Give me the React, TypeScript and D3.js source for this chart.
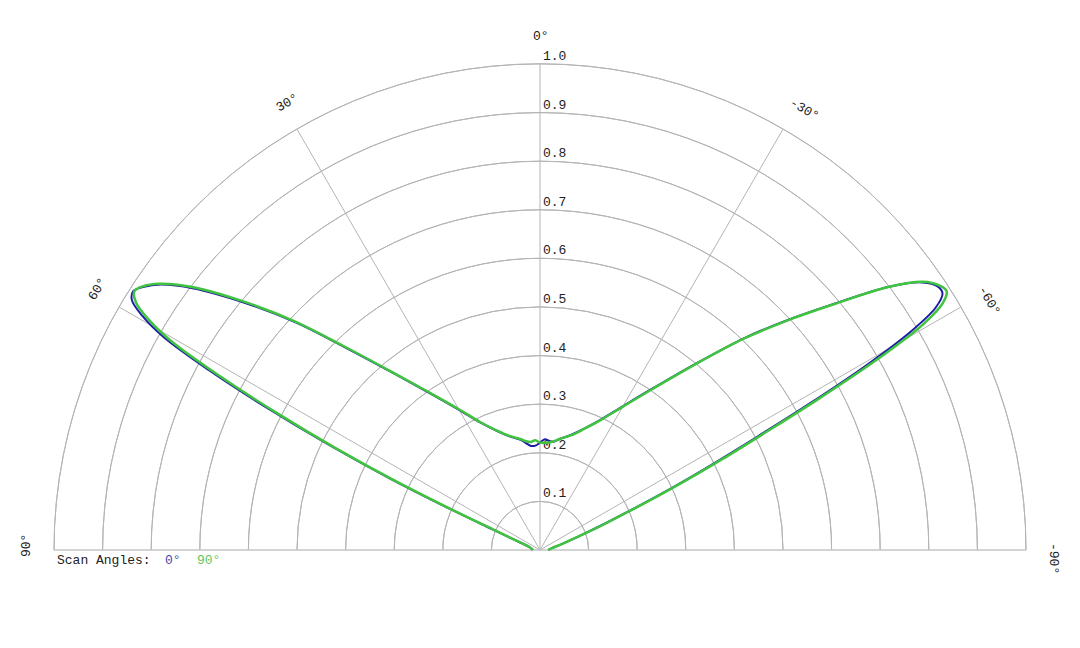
import * as d3 from 'd3';
import { useEffect, useRef } from 'react';

// scan direction (degrees) for each sample, 0 = broadside, + = left
const angles = [
  -90, -85, -80, -75, -70, -68, -66.5, -65.5, -64.5, -63.5, -62.5, -61.5, -60.5, -59.5, -58.5, -57.5,
  -56.5, -55, -53, -50, -47, -44, -40, -35, -30, -25, -20, -15, -10, -7.5, -5, -2.5,
  0,
  2.5, 5, 7.5, 10, 15, 20, 25, 30, 35, 40, 44, 47, 50, 53, 55,
  56.5, 57.5, 58.5, 59.5, 60.5, 61.5, 62.5, 63.5, 64.5, 65.5, 66.5, 68, 70, 75, 80, 85, 90,
];

// normalised gain for scan angle 0°
const scan0 = [
  0.017, 0.02, 0.027, 0.045, 0.093, 0.14, 0.195, 0.25, 0.32, 0.4, 0.5, 0.63, 0.77, 0.885, 0.955, 0.982,
  0.982, 0.96, 0.9, 0.787, 0.692, 0.607, 0.502, 0.407, 0.342, 0.296, 0.266, 0.245, 0.232, 0.225, 0.225, 0.228,
  0.221,
  0.215, 0.215, 0.222, 0.23, 0.242, 0.261, 0.289, 0.333, 0.393, 0.48, 0.582, 0.686, 0.79, 0.895, 0.952,
  0.98, 0.992, 0.985, 0.95, 0.89, 0.775, 0.635, 0.49, 0.345, 0.2, 0.105, 0.062, 0.036, 0.022, 0.018, 0.016, 0.015,
];

// normalised gain for scan angle 90°
const scan90 = [
  0.017, 0.02, 0.027, 0.045, 0.095, 0.145, 0.2, 0.26, 0.335, 0.42, 0.52, 0.655, 0.8, 0.915, 0.972, 0.992,
  0.986, 0.962, 0.9, 0.785, 0.69, 0.605, 0.5, 0.405, 0.34, 0.295, 0.265, 0.244, 0.232, 0.226, 0.222, 0.221,
  0.221,
  0.226, 0.223, 0.226, 0.232, 0.243, 0.262, 0.29, 0.335, 0.395, 0.482, 0.585, 0.69, 0.795, 0.9, 0.955,
  0.982, 0.99, 0.975, 0.935, 0.87, 0.75, 0.61, 0.47, 0.33, 0.19, 0.1, 0.06, 0.035, 0.022, 0.018, 0.016, 0.015,
];

const ringTicks = [0.1, 0.2, 0.3, 0.4, 0.5, 0.6, 0.7, 0.8, 0.9, 1.0];
const spokeAngles = [-90, -60, -30, 0, 30, 60, 90];
const angleLabels = [90, 60, 30, 0, -30, -60, -90];

const series = [
  { name: '0°', values: scan0, color: '#1c1ca6', width: 2 },
  { name: '90°', values: scan90, color: '#40c440', width: 2.5 },
];

const App = () => {
  const svgRef = useRef<SVGSVGElement | null>(null);

  useEffect(() => {
    const width = 1080;
    const height = 648;
    const cx = 540;
    const cy = 550;
    const radius = 486;
    const font = "'Liberation Mono', 'Courier New', monospace";

    const r = d3.scaleLinear().domain([0, 1]).range([0, radius]);
    const toRad = (deg: number) => (-deg * Math.PI) / 180;

    const svg = d3.select(svgRef.current)
      .attr('width', width)
      .attr('height', height);

    svg.selectAll('*').remove();

    const g = svg.append('g').attr('transform', `translate(${cx},${cy})`);

    // rings
    const arc = d3.arc<number>()
      .innerRadius((d) => r(d))
      .outerRadius((d) => r(d))
      .startAngle(-Math.PI / 2)
      .endAngle(Math.PI / 2);

    g.selectAll('path.ring')
      .data(ringTicks)
      .join('path')
      .attr('class', 'ring')
      .attr('d', (d) => arc(d))
      .attr('fill', 'none')
      .attr('stroke', '#b4b4b4')
      .attr('stroke-width', 1);

    // spokes
    g.selectAll('line.spoke')
      .data(spokeAngles)
      .join('line')
      .attr('class', 'spoke')
      .attr('x1', 0)
      .attr('y1', 0)
      .attr('x2', (d) => r(1) * Math.sin(toRad(d)))
      .attr('y2', (d) => -r(1) * Math.cos(toRad(d)))
      .attr('stroke', (d) => (Math.abs(d) === 90 ? '#c4c4c4' : '#b4b4b4'))
      .attr('stroke-width', (d) => (Math.abs(d) === 90 ? 1.6 : 1));

    // ring labels
    g.selectAll('text.rlabel')
      .data(ringTicks)
      .join('text')
      .attr('class', 'rlabel')
      .attr('x', 3)
      .attr('y', (d) => -r(d) - 4)
      .attr('font-family', font)
      .attr('font-size', 13)
      .attr('fill', '#222')
      .text((d) => d.toFixed(1));

    // angle labels
    const labelR = 510;
    g.selectAll('text.alabel')
      .data(angleLabels)
      .join('text')
      .attr('class', 'alabel')
      .attr('transform', (d) => {
        const a = toRad(d);
        const x = labelR * Math.sin(a);
        const y = -labelR * Math.cos(a);
        return `translate(${x},${y}) rotate(${-d})`;
      })
      .attr('x', -7)
      .attr('font-family', font)
      .attr('font-size', 13)
      .attr('fill', '#222')
      .text((d) => `${d}°`);

    // pattern curves
    const line = d3.lineRadial<number>()
      .angle((_, i) => toRad(angles[i]))
      .radius((d) => r(d))
      .curve(d3.curveCatmullRom.alpha(0.5));

    series.forEach((s) => {
      g.append('path')
        .datum(s.values)
        .attr('fill', 'none')
        .attr('stroke', s.color)
        .attr('stroke-width', s.width)
        .attr('stroke-linejoin', 'round')
        .attr('d', line);
    });

    // legend
    const legend = svg.append('text')
      .attr('x', 57)
      .attr('y', 564)
      .attr('font-family', font)
      .attr('font-size', 13)
      .attr('fill', '#222');
    legend.append('tspan').text('Scan Angles:');
    legend.append('tspan').attr('x', 165).attr('fill', '#3a4cb0').text(series[0].name);
    legend.append('tspan').attr('x', 197).attr('fill', '#5cc85c').text(series[1].name);
  }, []);

  return (
    <svg
      ref={svgRef}
      style={{ position: 'absolute', left: 0, top: 0, display: 'block', background: '#fff' }}
    ></svg>
  );
};

export default App;
